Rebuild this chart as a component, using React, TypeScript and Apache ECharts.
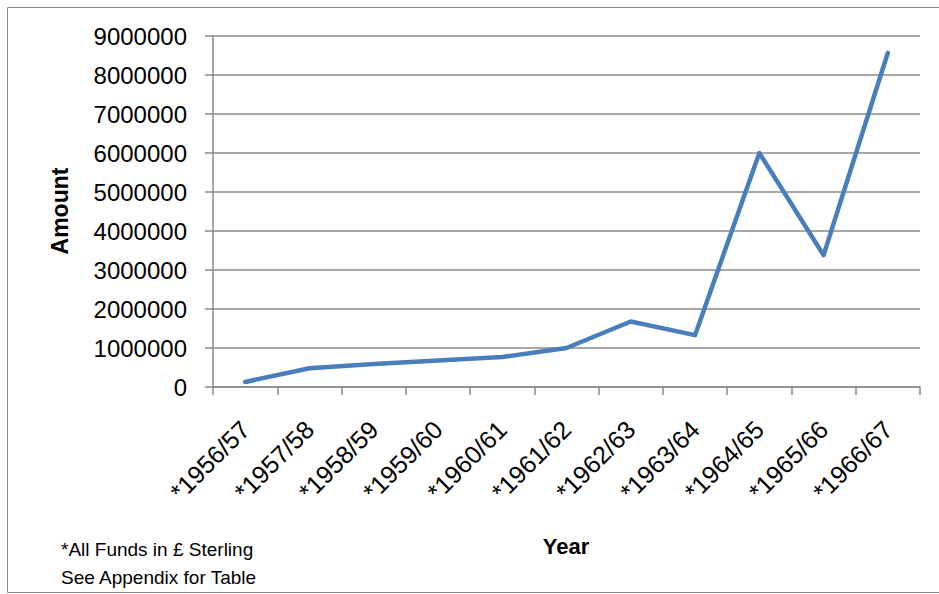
import React, { useEffect, useRef } from "react";
import * as echarts from "echarts";

// Funding per financial year
const years = [
  "*1956/57",
  "*1957/58",
  "*1958/59",
  "*1959/60",
  "*1960/61",
  "*1961/62",
  "*1962/63",
  "*1963/64",
  "*1964/65",
  "*1965/66",
  "*1966/67",
];
const amounts = [
  130000, 480000, 590000, 680000, 770000, 1000000, 1680000, 1330000, 6000000,
  3380000, 8570000,
];
const yMin = 0;
const yMax = 9000000;
const yStep = 1000000;

const footnotes = ["*All Funds in \u00A3 Sterling", "See Appendix for Table"];

const FONT = '"Liberation Sans", Arial, sans-serif';
const GRID_GRAY = "#8a8a8a";

export default function App() {
  const ref = useRef<HTMLDivElement>(null);

  useEffect(() => {
    if (!ref.current) return;
    const chart = echarts.init(ref.current, null, { renderer: "svg" });
    chart.setOption({
      animation: false,
      backgroundColor: "#ffffff",
      grid: { left: 213, right: 19, top: 36, bottom: 207, containLabel: false },
      xAxis: {
        type: "category",
        data: years,
        boundaryGap: true,
        axisLine: { show: true, lineStyle: { color: GRID_GRAY, width: 1.5 } },
        axisTick: {
          show: true,
          alignWithLabel: false,
          length: 8,
          lineStyle: { color: GRID_GRAY, width: 1.5 },
        },
        axisLabel: {
          rotate: 45,
          margin: 38,
          color: "#000",
          fontFamily: FONT,
          fontSize: 25,
          interval: 0,
        },
      },
      yAxis: {
        type: "value",
        min: yMin,
        max: yMax,
        interval: yStep,
        axisLine: { show: true, lineStyle: { color: GRID_GRAY, width: 1.5 } },
        axisTick: { show: true, length: 8, lineStyle: { color: GRID_GRAY, width: 1.5 } },
        splitLine: { show: true, lineStyle: { color: GRID_GRAY, width: 1.5 } },
        axisLabel: {
          margin: 26,
          color: "#000",
          fontFamily: FONT,
          fontSize: 24,
          formatter: (v: number) => String(v),
        },
      },
      series: [
        {
          type: "line",
          data: amounts,
          showSymbol: false,
          symbol: "none",
          lineStyle: { color: "#4a7ebb", width: 4.5, cap: "round", join: "round" },
        },
      ],
      graphic: [
        {
          type: "rect",
          shape: { x: 7.5, y: 7.5, width: 940, height: 585 },
          style: { fill: "none", stroke: GRID_GRAY, lineWidth: 1 },
          silent: true,
        },
        {
          type: "text",
          x: 60,
          y: 211,
          rotation: Math.PI / 2,
          style: {
            text: "Amount",
            fontFamily: FONT,
            fontWeight: "bold",
            fontSize: 23,
            fill: "#000",
            align: "center",
            verticalAlign: "middle",
          },
        },
        {
          type: "text",
          x: 566,
          y: 546,
          style: {
            text: "Year",
            fontFamily: FONT,
            fontWeight: "bold",
            fontSize: 22,
            fill: "#000",
            align: "center",
            verticalAlign: "middle",
          },
        },
        {
          type: "text",
          x: 61,
          y: 549,
          style: {
            text: footnotes[0],
            fontFamily: FONT,
            fontSize: 19,
            fill: "#000",
            align: "left",
            verticalAlign: "middle",
          },
        },
        {
          type: "text",
          x: 61,
          y: 577,
          style: {
            text: footnotes[1],
            fontFamily: FONT,
            fontSize: 19,
            fill: "#000",
            align: "left",
            verticalAlign: "middle",
          },
        },
      ],
    });
    return () => chart.dispose();
  }, []);

  return (
    <div
      ref={ref}
      style={{ position: "fixed", left: 0, top: 0, width: 939, height: 594 }}
    />
  );
}
